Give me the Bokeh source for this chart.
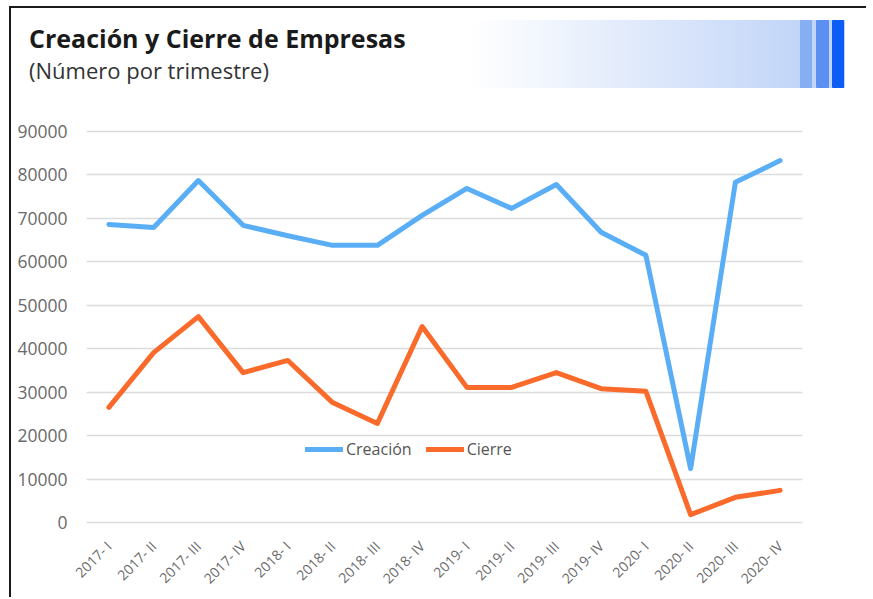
from bokeh.plotting import figure
from bokeh.models import (Range1d, FactorRange, FixedTicker, Legend, LegendItem,
                          ColumnDataSource, Div)
from bokeh.layouts import column
from bokeh.embed import file_html
from bokeh.resources import INLINE
from math import pi

# ---------------- data ----------------
quarters = ["2017- I", "2017- II", "2017- III", "2017- IV",
            "2018- I", "2018- II", "2018- III", "2018- IV",
            "2019- I", "2019- II", "2019- III", "2019- IV",
            "2020- I", "2020- II", "2020- III", "2020- IV"]
creacion = [68600, 67900, 78700, 68400, 66000, 63800, 63800, 70700,
            76900, 72300, 77800, 66800, 61500, 12400, 78300, 83300]
cierre = [26500, 39100, 47400, 34500, 37300, 27600, 22800, 45100,
          31100, 31100, 34500, 30800, 30200, 1800, 5800, 7400]
y_ticks = [0, 10000, 20000, 30000, 40000, 50000, 60000, 70000, 80000, 90000]

title_text = "Creación y Cierre de Empresas"
subtitle_text = "(Número por trimestre)"
FONT = "Open Sans"
BLUE = "#5aaef6"
ORANGE = "#fa6a2a"

W = 855
H1 = 93

# ---------------- header (title + decorative gradient) ----------------
header_html = f"""
<div style="position:relative;width:{W}px;height:{H1}px;font-family:'{FONT}';">
  <div style="position:absolute;left:459px;top:12px;width:375px;height:68px;
       background:linear-gradient(to right,#ffffff 0%,#c2d5f8 88%,#c2d5f8 100%);"></div>
  <div style="position:absolute;left:789px;top:12px;width:12px;height:68px;background:#86aef3;border-radius:1px;"></div>
  <div style="position:absolute;left:805px;top:12px;width:13px;height:68px;background:#5b8ff2;border-radius:1px;"></div>
  <div style="position:absolute;left:821px;top:12px;width:12px;height:68px;background:#0c5cf5;border-radius:1px;"></div>
  <div style="position:absolute;left:18px;top:18px;font-size:25px;line-height:1;
       font-weight:bold;color:#1a1a1a;white-space:nowrap;">{title_text}</div>
  <div style="position:absolute;left:18px;top:51px;font-size:22px;line-height:1;
       color:#333333;white-space:nowrap;">{subtitle_text}</div>
</div>
"""
header = Div(text=header_html, width=W, height=H1, margin=0,
             styles={"padding": "0"})

# ---------------- main chart ----------------
p = figure(frame_width=716, frame_height=410,
           x_range=FactorRange(*quarters, range_padding=0),
           y_range=Range1d(-1841, 92532),
           output_backend="svg", toolbar_location=None,
           min_border_left=75, min_border_right=64,
           min_border_top=19, min_border_bottom=30, margin=0)
p.outline_line_color = None
p.xgrid.visible = False
p.ygrid.grid_line_color = "#dcdcdc"
p.ygrid.grid_line_width = 1.5

p.yaxis.ticker = FixedTicker(ticks=y_ticks)
p.yaxis.axis_line_color = None
p.yaxis.major_tick_line_color = None
p.yaxis.minor_tick_line_color = None
p.yaxis.major_label_standoff = 13
p.yaxis.major_label_text_font = FONT
p.yaxis.major_label_text_font_size = "17.5px"
p.yaxis.major_label_text_color = "#6a6a6a"

p.xaxis.axis_line_color = None
p.xaxis.major_tick_line_color = None
p.xaxis.minor_tick_line_color = None
p.xaxis.major_label_orientation = pi / 4
p.xaxis.major_label_standoff = 7
p.xaxis.major_label_text_font = FONT
p.xaxis.major_label_text_font_size = "14px"
p.xaxis.major_label_text_color = "#6a6a6a"

src = ColumnDataSource(dict(q=quarters, creacion=creacion, cierre=cierre))
r1 = p.line("q", "creacion", source=src, line_color=BLUE, line_width=5,
            line_join="round", line_cap="round")
r2 = p.line("q", "cierre", source=src, line_color=ORANGE, line_width=5,
            line_join="round", line_cap="round")

legend = Legend(items=[LegendItem(label="Creación", renderers=[r1]),
                       LegendItem(label="Cierre", renderers=[r2])],
                orientation="horizontal", location=(219, 70),
                background_fill_alpha=0, border_line_color=None,
                padding=0, margin=0, spacing=14, glyph_width=38,
                glyph_height=20, label_standoff=3,
                label_text_font=FONT, label_text_font_size="16px",
                label_text_color="#555555")
p.add_layout(legend)

layout = column(header, p, spacing=0, margin=(6, 0, 0, 9),
                styles={"border-left": "2px solid #1a1a1a",
                        "border-top": "2px solid #1a1a1a"})

open("out.html", "w").write(file_html(layout, INLINE))
